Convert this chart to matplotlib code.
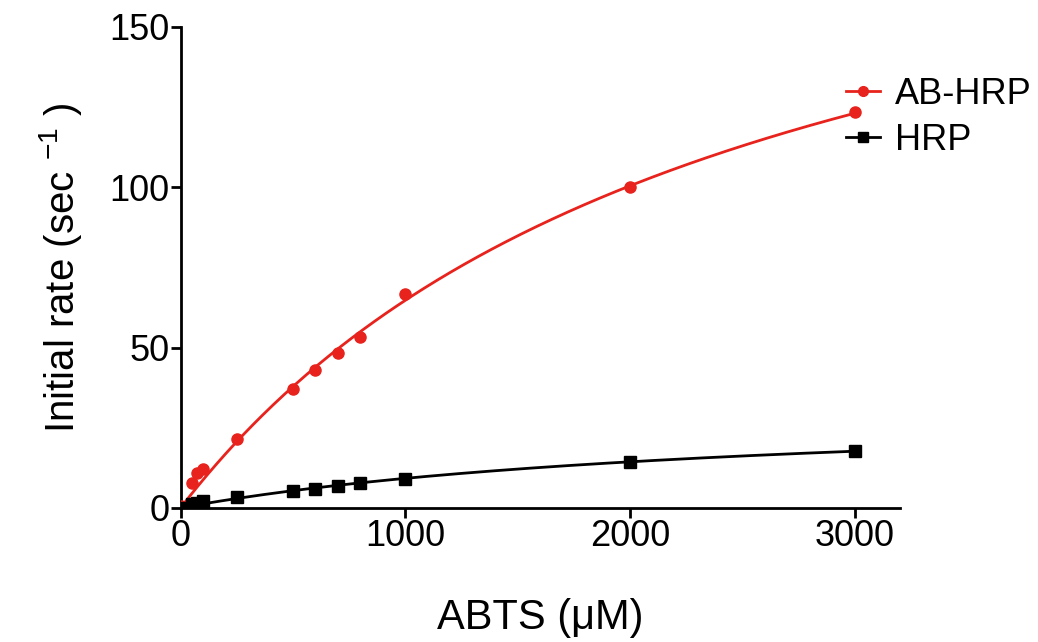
import numpy as np
import matplotlib
matplotlib.use("Agg")
import matplotlib.pyplot as plt

plt.rcParams['font.family'] = ['Liberation Sans', 'DejaVu Sans']
plt.rcParams['mathtext.fontset'] = 'custom'
plt.rcParams['mathtext.rm'] = 'Liberation Sans'
plt.rcParams['mathtext.it'] = 'Liberation Sans'

# ABTS concentrations (uM)
abts = [0, 50, 75, 100, 250, 500, 600, 700, 800, 1000, 2000, 3000]
ab_hrp = [0.5, 7.8, 10.9, 12.2, 21.5, 37.1, 43.0, 48.3, 53.3, 66.7, 100.1, 123.5]
hrp = [0.0, 1.2, 1.6, 2.0, 3.4, 5.3, 5.9, 6.9, 7.8, 9.0, 14.3, 17.8]

series_names = ['AB-HRP', 'HRP']
xticks = [0, 1000, 2000, 3000]
yticks = [0, 50, 100, 150]


def mm_fit(x, y):
    # least squares Michaelis-Menten fit, grid over Km, Vmax in closed form
    x = np.asarray(x, float)
    y = np.asarray(y, float)
    best = None
    for km in np.linspace(100, 8000, 4000):
        f = x / (km + x)
        vmax = (f @ y) / (f @ f)
        err = np.sum((vmax * f - y) ** 2)
        if best is None or err < best[0]:
            best = (err, vmax, km)
    return best[1], best[2]


fig = plt.figure(figsize=(10.38, 6.42), dpi=100)
ax = fig.add_axes([0.174, 0.209, 0.693, 0.749])

xs = np.linspace(0, 3000, 300)
red = '#e8221c'
for yv, col, mk, name in [(ab_hrp, red, 'o', series_names[0]),
                          (hrp, 'black', 's', series_names[1])]:
    vmax, km = mm_fit(abts, yv)
    ax.plot(xs, vmax * xs / (km + xs), color=col, lw=2, zorder=2)
    ax.plot(abts, yv, ls='none', marker=mk, color=col, ms=8, zorder=3)
    ax.plot([], [], color=col, marker=mk, ms=7, lw=2, label=name)

ax.set_xlim(0, 3200)
ax.set_ylim(0, 150)
ax.set_xticks(xticks)
ax.set_yticks(yticks)
ax.spines['top'].set_visible(False)
ax.spines['right'].set_visible(False)
for s in ['left', 'bottom']:
    ax.spines[s].set_linewidth(2)
ax.tick_params(width=2, length=7, labelsize=26, pad=1)

ax.set_ylabel('Initial rate (sec $^{-1}$ )', fontsize=29, labelpad=18)
ax.set_xlabel('ABTS (\u03bcM)', fontsize=30, labelpad=32)

fig.legend(*ax.get_legend_handles_labels(), loc='upper left',
           bbox_to_anchor=(0.815, 0.88), frameon=False,
           fontsize=26, handlelength=0.95, handletextpad=0.4,
           labelspacing=0.3, borderaxespad=0, borderpad=0)

fig.savefig('out.png', dpi=100)
